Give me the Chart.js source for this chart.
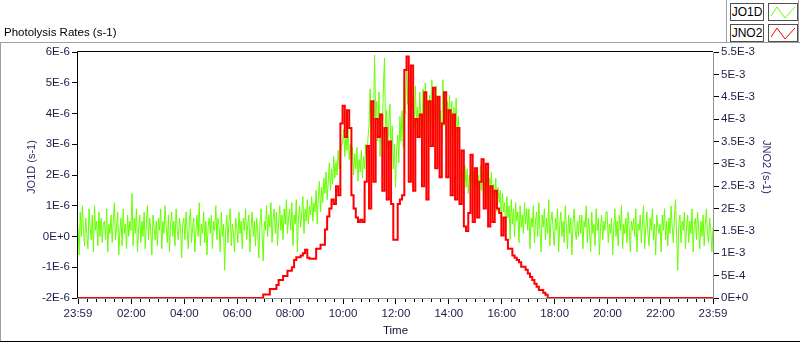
<!DOCTYPE html>
<html>
<head>
<meta charset="utf-8">
<title>Photolysis Rates (s-1)</title>
<script src="https://cdn.jsdelivr.net/npm/chart.js@4.4.0/dist/chart.umd.min.js"></script>
<style>
  html, body { margin: 0; padding: 0; background: #fff; }
  #wrap { position: relative; width: 800px; height: 342px; overflow: hidden; font-family: "Liberation Sans", Arial, sans-serif; }
  #chart { position: absolute; left: 0; top: 0; }
  .line { position: absolute; }
  #caption { position: absolute; left: 4px; top: 25px; font-size: 11.5px; line-height: 14px; color: #000; }
  #legend { position: absolute; left: 726px; top: 0; width: 71px; height: 42px; background: #fff;
            border-left: 1px solid #a0a0a0; border-right: 1px solid #a0a0a0; }
  .name { position: absolute; left: 3px; width: 32px; height: 16px; border: 1px solid #505050; background: #fff;
          font-size: 12px; line-height: 16px; text-align: center; color: #000; }
  .swatch { position: absolute; left: 41px; width: 28px; height: 16px; border: 1px solid #505050; background: #fff; }
  .swatch svg { display: block; }
</style>
</head>
<body>
<div id="wrap">
  <canvas id="chart" width="800" height="342"></canvas>
  <div class="line" style="left:0;top:42px;width:800px;border-top:1px solid #a0a0a0;"></div>
  <div class="line" style="left:0;top:42px;height:300px;border-left:1px solid #a0a0a0;"></div>
  <div class="line" style="left:0;top:341px;width:800px;border-top:1px solid #000;"></div>
  <div id="caption">Photolysis Rates (s-1)</div>
  <div id="legend">
    <div class="name" style="top:3px;">JO1D</div>
    <div class="swatch" style="top:3px;"><svg width="28" height="16"><polyline points="2,12 8,3 16,14 26,3" fill="none" stroke="#66ff00" stroke-width="1"/></svg></div>
    <div class="name" style="top:24px;">JNO2</div>
    <div class="swatch" style="top:24px;"><svg width="28" height="16"><polyline points="2,12 8,3 16,14 26,3" fill="none" stroke="#ff0000" stroke-width="1"/></svg></div>
  </div>
</div>
<script>
(function () {
  "use strict";

  // JO1D sampled every 2.5 min, JNO2 every 5 min, both from 23:59 to 23:59
  var jo1dStepMin = 2.5;
  var jno2StepMin = 5;

  // JO1D in units of 1E-6 s-1 (one row per hour)
  var jo1dMicro = [
    0.3, -0.6, 0.8, 0.0, 1.0, 0.2, -0.3, 0.6, 0.1, -0.4, 0.9, 0.3, -0.1, 0.7, -0.5, 1.0, 0.2, 0.5, -0.3, 0.8, 0.0, 0.6, -0.2, 0.4,
    0.5, -0.1, 0.9, -0.5, 0.4, 0.1, 0.7, -0.2, 0.5, 1.1, -0.1, 0.3, 0.8, -0.6, 0.2, 0.6, -0.3, 0.9, 0.1, 0.4, -0.4, 0.7, 0.0, 0.5,
    0.2, 1.4, -0.3, 0.6, 0.1, 0.9, -0.5, 0.3, 0.7, -0.2, 0.5, 0.0, 0.8, -0.4, 0.4, 1.0, -0.1, 0.6, 0.2, -0.6, 0.7, 0.3, -0.1, 0.5,
    -0.3, 0.6, 0.2, 0.9, -0.4, 0.5, 0.1, 1.0, 0.3, -0.2, 0.7, -0.5, 0.4, 0.8, 0.0, 0.5, -0.3, 0.9, 0.2, -0.1, 0.6, 0.3, -0.7, 0.4,
    0.6, -0.1, 0.8, 0.2, -0.4, 0.5, 0.9, -0.2, 0.3, 0.6, -0.5, 0.2, 0.7, 0.0, 1.1, -0.3, 0.4, 0.1, 0.8, -0.2, 0.5, -0.6, 0.3, 0.6,
    0.1, 0.7, -0.4, 0.5, 0.2, 1.0, -0.1, 0.6, 0.3, -0.5, 0.8, 0.0, 0.4, -1.1, 0.2, 0.7, -0.2, 0.5, 0.9, -0.3, 0.4, 0.1, -0.5, 0.6,
    0.3, -0.2, 0.8, 0.1, 0.5, -0.4, 0.6, 0.2, 0.9, -0.1, 0.4, 0.7, -0.5, 0.3, 0.8, 0.0, 0.5, -0.3, 0.6, 0.2, -0.7, 0.4, 0.9, 0.1,
    -0.8, 0.5, 0.2, 1.0, 0.0, 0.7, 0.3, 1.1, -0.2, 0.6, 0.9, 0.1, 0.8, -0.3, 0.5, 1.0, 0.2, 0.7, -0.1, 0.9, 0.4, 1.2, 0.1, 0.6,
    0.9, 0.2, 1.1, -0.3, 0.7, 0.4, 1.2, -0.5, 0.6, 1.0, 0.3, 0.8, 1.3, 0.1, 0.9, 0.5, 1.2, 0.4, 1.0, 0.7, 1.3, 0.5, 1.1, 0.8,
    1.5, 0.4, 1.3, 1.8, 0.8, 1.6, 1.1, 1.9, 1.4, 2.1, 1.2, 1.8, 2.4, 1.5, 2.2, 1.7, 2.6, 1.9, 2.4, 2.0, 2.8, 2.2, 2.6, 2.9,
    3.1, 3.5, 2.6, 3.3, 2.8, 3.6, 2.5, 3.0, 2.3, 2.9, 2.0, 2.7, 2.2, 2.9, 1.8, 2.5, 2.1, 2.8, 1.9, 2.6, 2.2, 3.0, 2.4, 3.2,
    3.6, 4.8, 3.0, 4.2, 3.4, 5.9, 3.8, 4.4, 3.1, 4.7, 2.6, 4.0, 3.5, 4.8, 5.8, 3.3, 4.1, 2.9, 3.7, 4.3, 2.5, 3.6, 2.2, 3.0,
    1.6, 2.8, 3.3, 2.4, 3.9, 3.1, 4.1, 2.9, 5.2, 4.0, 5.6, 4.3, 5.0, 3.8, 5.3, 4.1, 4.6, 3.5, 4.9, 3.7, 4.2, 3.3, 4.7, 3.9,
    3.4, 4.8, 3.1, 5.0, 3.7, 4.4, 2.9, 4.6, 3.6, 5.1, 3.2, 4.3, 3.8, 4.9, 2.8, 4.5, 3.5, 4.1, 3.0, 5.1, 3.6, 4.7, 3.3, 4.4,
    3.8, 4.6, 3.2, 4.4, 2.8, 4.2, 3.4, 4.5, 3.0, 3.9, 2.4, 2.0, 1.6, 2.1, 1.8, 2.3, 1.6, 2.2, 1.4, 2.0, 1.7, 2.3, 1.5, 2.1,
    1.3, 2.2, 1.6, 2.0, 1.1, 2.3, 1.5, 2.1, 0.9, 1.8, 1.4, 2.2, 1.2, 1.9, 1.6, 2.1, 1.0, 1.7, 1.3, 1.9, 0.8, 1.6, 1.1, 1.5,
    0.5, 1.4, 0.8, 1.1, 0.2, 1.3, 0.6, 1.0, -0.1, 1.2, 0.4, 0.9, 0.0, 1.1, 0.5, 0.8, -0.2, 1.0, 0.3, 0.7, 0.1, 1.1, 0.4, 0.9,
    0.2, 0.9, -0.4, 0.6, 0.3, 1.0, -0.2, 0.5, 0.8, 0.0, 1.1, 0.2, -0.5, 0.7, 0.3, 0.9, -0.1, 0.6, 0.1, 1.2, -0.3, 0.5, 0.8, 0.2,
    -0.3, 0.6, 0.2, 0.9, -0.5, 0.4, 0.8, 0.0, 0.5, -0.2, 1.0, 0.3, -0.4, 0.7, 0.1, 0.6, -0.6, 0.4, 0.9, 0.2, -0.1, 0.5, 0.0, 0.7,
    0.1, 0.7, -0.4, 0.5, 0.3, 1.0, -0.2, 0.6, 0.2, -0.5, 0.8, 0.1, 0.4, -0.3, 0.9, 0.2, 0.6, -0.6, 0.3, 0.7, -0.1, 0.5, 0.2, 0.8,
    0.8, -0.2, 0.4, 0.1, 0.6, -0.6, 0.3, 0.9, 0.0, 0.5, -0.3, 0.7, 0.2, 1.0, -0.4, 0.4, 0.1, 0.6, -0.2, 0.8, 0.3, -0.5, 0.5, 0.2,
    0.6, 0.0, 0.9, -0.5, 0.4, 0.2, 0.7, -0.2, 0.5, 1.0, -0.4, 0.3, 0.8, 0.1, -0.3, 0.6, 0.2, 0.9, -0.1, 0.4, -0.6, 0.7, 0.3, 0.1,
    0.4, -0.5, 0.7, 0.2, 0.9, -0.1, 0.5, -0.3, 0.6, 0.1, 1.0, 0.3, -0.2, 0.6, 1.2, 0.0, -1.1, 0.4, 0.7, -0.2, 0.5, 0.2, 0.8, -0.4,
    0.3, 0.7, -0.2, 0.5, 0.1, 0.9, -0.5, 0.4, 0.6, -0.1, 0.8, 0.2, -0.4, 0.5, 0.0, 0.7, -0.3, 0.4, 0.9, 0.1, -0.2, 0.6, 0.2, -0.5, 0.3
  ];

  // JNO2 in units of 1E-3 s-1 (one row per hour)
  var jno2Milli = [
    0, 0, 0, 0, 0, 0, 0, 0, 0, 0, 0, 0,
    0, 0, 0, 0, 0, 0, 0, 0, 0, 0, 0, 0,
    0, 0, 0, 0, 0, 0, 0, 0, 0, 0, 0, 0,
    0, 0, 0, 0, 0, 0, 0, 0, 0, 0, 0, 0,
    0, 0, 0, 0, 0, 0, 0, 0, 0, 0, 0, 0,
    0, 0, 0, 0, 0, 0, 0, 0, 0, 0, 0, 0,
    0, 0, 0, 0, 0, 0, 0, 0, 0, 0, 0, 0,
    0.08, 0.08, 0.08, 0.2, 0.2, 0.2, 0.29, 0.4, 0.4, 0.49, 0.49, 0.61,
    0.61, 0.69, 0.85, 0.91, 0.91, 0.95, 1.0, 1.08, 0.9, 0.88, 0.88, 0.88,
    1.1, 1.1, 1.19, 1.19, 1.53, 1.82, 2.0, 2.2, 2.1, 2.5, 2.3, 3.9,
    4.3, 3.6, 4.2, 3.8, 2.3, 2.0, 1.8, 1.7, 1.75, 1.7, 2.6, 3.4,
    2.0, 4.4, 2.6, 4.0, 3.6, 4.1, 2.4, 3.8, 2.2, 3.5, 2.1, 1.3,
    1.3, 2.1, 2.2, 2.3, 5.1, 5.4, 2.6, 5.2, 2.4, 4.0, 3.6, 4.1,
    2.5, 4.6, 2.2, 4.4, 3.4, 4.7, 2.9, 4.5, 2.7, 3.9, 4.6, 2.7,
    4.2, 2.3, 4.1, 2.2, 3.8, 2.1, 3.3, 1.6, 1.5, 1.9, 3.2, 1.7,
    2.9, 1.8, 2.6, 3.1, 2.0, 3.0, 1.6, 2.5, 1.7, 2.4, 2.0, 1.9,
    1.4, 1.8, 1.3, 1.1, 1.1, 0.95, 0.9, 0.85, 0.8, 0.7, 0.7, 0.63,
    0.55, 0.47, 0.4, 0.32, 0.25, 0.18, 0.18, 0.12, 0.07, 0, 0, 0,
    0, 0, 0, 0, 0, 0, 0, 0, 0, 0, 0, 0,
    0, 0, 0, 0, 0, 0, 0, 0, 0, 0, 0, 0,
    0, 0, 0, 0, 0, 0, 0, 0, 0, 0, 0, 0,
    0, 0, 0, 0, 0, 0, 0, 0, 0, 0, 0, 0,
    0, 0, 0, 0, 0, 0, 0, 0, 0, 0, 0, 0,
    0, 0, 0, 0, 0, 0, 0, 0, 0, 0, 0, 0, 0
  ];

  // x axis: minutes after 23:59
  var xTickMinutes = [0, 121, 241, 361, 481, 601, 721, 841, 961, 1081, 1201, 1321, 1440];
  var xTickLabels = ["23:59", "02:00", "04:00", "06:00", "08:00", "10:00", "12:00",
                     "14:00", "16:00", "18:00", "20:00", "22:00", "23:59"];

  var leftTickValues = [-2, -1, 0, 1, 2, 3, 4, 5, 6];
  var leftTickLabels = ["-2E-6", "-1E-6", "0E+0", "1E-6", "2E-6", "3E-6", "4E-6", "5E-6", "6E-6"];

  var rightTickValues = [0, 0.5, 1, 1.5, 2, 2.5, 3, 3.5, 4, 4.5, 5, 5.5];
  var rightTickLabels = ["0E+0", "5E-4", "1E-3", "1.5E-3", "2E-3", "2.5E-3", "3E-3",
                         "3.5E-3", "4E-3", "4.5E-3", "5E-3", "5.5E-3"];

  var leftTitle = "JO1D (s-1)";
  var rightTitle = "JNO2 (s-1)";

  var FONT = "'Liberation Sans', Arial, sans-serif";
  var FONT_SIZE = 11.5;
  var TICK_COLOR = "#1c1c48";

  function toPoints(values, step) {
    return values.map(function (v, i) { return { x: i * step, y: v }; });
  }

  function setTicks(values) {
    return function (scale) {
      scale.ticks = values.map(function (v) { return { value: v }; });
    };
  }

  function labelFrom(values, labels) {
    return function (v) {
      var i = values.indexOf(v);
      return i >= 0 ? labels[i] : "";
    };
  }

  // plot frame: dark on top/left, grey on right/bottom
  var plotFrame = {
    id: "plotFrame",
    afterDatasetsDraw: function (chart) {
      var a = chart.chartArea, ctx = chart.ctx;
      ctx.save();
      ctx.lineWidth = 1;
      ctx.strokeStyle = "#000";
      ctx.beginPath();
      ctx.moveTo(a.left - 0.5, a.bottom);
      ctx.lineTo(a.left - 0.5, a.top - 0.5);
      ctx.lineTo(a.right, a.top - 0.5);
      ctx.stroke();
      ctx.strokeStyle = "#909090";
      ctx.beginPath();
      ctx.moveTo(a.right + 0.5, a.top);
      ctx.lineTo(a.right + 0.5, a.bottom + 0.5);
      ctx.lineTo(a.left - 1, a.bottom + 0.5);
      ctx.stroke();
      ctx.restore();
    }
  };

  // small ticks between the labelled times
  var minorTicks = {
    id: "minorTicks",
    afterDraw: function (chart) {
      var sx = chart.scales.x, ctx = chart.ctx, y0 = chart.chartArea.bottom + 1;
      ctx.save();
      ctx.strokeStyle = "#000";
      ctx.lineWidth = 1;
      ctx.beginPath();
      for (var k = 0; k < xTickMinutes.length - 1; k++) {
        var a = xTickMinutes[k], b = xTickMinutes[k + 1];
        for (var j = 1; j < 6; j++) {
          var px = Math.round(sx.getPixelForValue(a + (b - a) * j / 6)) + 0.5;
          ctx.moveTo(px, y0);
          ctx.lineTo(px, y0 + 3);
        }
      }
      ctx.stroke();
      ctx.restore();
    }
  };

  // vertical axis titles, placed like the original panel
  var axisTitles = {
    id: "axisTitles",
    afterDraw: function (chart) {
      var ctx = chart.ctx, cy = 167;
      [[leftTitle, 32, -Math.PI / 2], [rightTitle, 766, Math.PI / 2]].forEach(function (t) {
        ctx.save();
        ctx.font = "11px " + FONT;
        ctx.fillStyle = "#2e2a6e";
        ctx.textAlign = "center";
        ctx.textBaseline = "middle";
        ctx.translate(t[1], cy);
        ctx.rotate(t[2]);
        ctx.fillText(t[0], 0, 0);
        ctx.restore();
      });
    }
  };

  var ctx = document.getElementById("chart").getContext("2d");
  new Chart(ctx, {
    type: "line",
    data: {
      datasets: [
        {
          label: "JO1D",
          data: toPoints(jo1dMicro, jo1dStepMin),
          yAxisID: "yL",
          borderColor: "#66ff00",
          borderWidth: 1,
          pointRadius: 0,
          tension: 0,
          order: 1
        },
        {
          label: "JNO2",
          data: toPoints(jno2Milli, jno2StepMin),
          yAxisID: "yR",
          borderColor: "#ff0000",
          borderWidth: 2,
          pointRadius: 0,
          stepped: true,
          order: 0
        }
      ]
    },
    options: {
      responsive: false,
      animation: false,
      devicePixelRatio: 1,
      layout: { padding: { top: 52, left: 0, right: 0, bottom: 0 } },
      plugins: {
        legend: { display: false },
        tooltip: { enabled: false },
        title: { display: false }
      },
      scales: {
        x: {
          type: "linear",
          min: 0,
          max: 1440,
          afterBuildTicks: setTicks(xTickMinutes),
          afterFit: function (s) { s.height = 44; },
          grid: { drawOnChartArea: false, tickLength: 6, tickColor: "#000" },
          border: { display: false },
          ticks: {
            autoSkip: false,
            maxRotation: 0,
            padding: 3,
            color: TICK_COLOR,
            font: { family: FONT, size: FONT_SIZE },
            callback: labelFrom(xTickMinutes, xTickLabels)
          },
          title: {
            display: true,
            text: "Time",
            color: "#101030",
            font: { family: FONT, size: FONT_SIZE },
            padding: { top: 0, bottom: 4 }
          }
        },
        yL: {
          type: "linear",
          position: "left",
          min: -2,
          max: 6,
          afterBuildTicks: setTicks(leftTickValues),
          afterFit: function (s) { s.width = 78; },
          grid: { drawOnChartArea: false, tickLength: 6, tickColor: "#000" },
          border: { display: false },
          ticks: {
            padding: 2,
            color: TICK_COLOR,
            font: { family: FONT, size: FONT_SIZE },
            callback: labelFrom(leftTickValues, leftTickLabels)
          }
        },
        yR: {
          type: "linear",
          position: "right",
          min: 0,
          max: 5.5,
          afterBuildTicks: setTicks(rightTickValues),
          afterFit: function (s) { s.width = 87; },
          grid: { drawOnChartArea: false, tickLength: 6, tickColor: "#000" },
          border: { display: false },
          ticks: {
            padding: 2,
            color: TICK_COLOR,
            font: { family: FONT, size: FONT_SIZE },
            callback: labelFrom(rightTickValues, rightTickLabels)
          }
        }
      }
    },
    plugins: [plotFrame, minorTicks, axisTitles]
  });
})();
</script>
</body>
</html>
